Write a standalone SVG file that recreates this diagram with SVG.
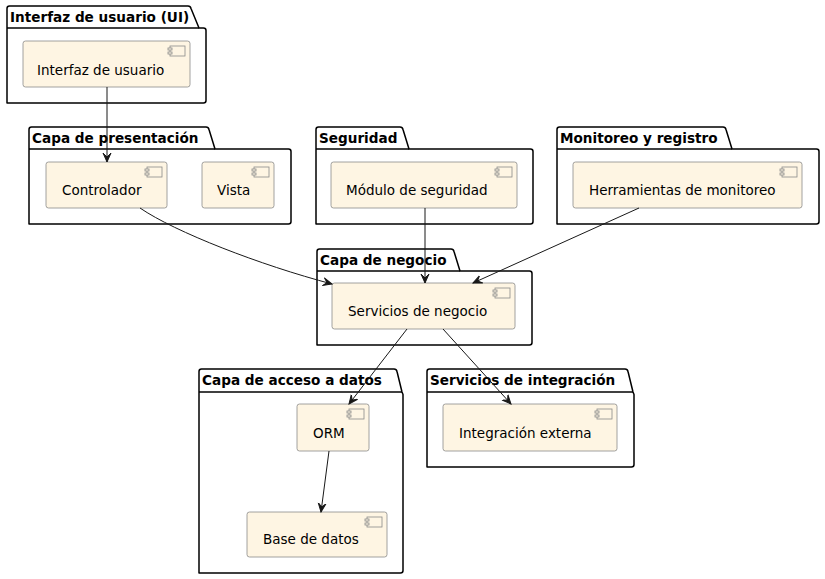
<svg xmlns="http://www.w3.org/2000/svg" width="825" height="579" viewBox="0 0 825 579">
<style>
.pkg{fill:#FFFFFF;stroke:#000000;stroke-width:1.5;stroke-linejoin:round}
.pkgline{stroke:#000000;stroke-width:1.5;fill:none}
.ptitle{font-family:"DejaVu Sans",sans-serif;font-size:13.6px;font-weight:bold;fill:#000000}
.comp{fill:#FEF5E3;stroke:#8A8A8A;stroke-width:0.8}
.icon{fill:#FEF5E3;stroke:#8A8A8A;stroke-width:0.8}
.ctext{font-family:"DejaVu Sans",sans-serif;font-size:13.5px;fill:#000000}
.edge{stroke:#181818;stroke-width:1;fill:none}
</style>
<defs>
<marker id="arr" viewBox="0 -5 10 10" refX="9" refY="0" markerWidth="10" markerHeight="10" markerUnits="userSpaceOnUse" orient="auto">
<path d="M0,-4 L9,0 L0,4 L4,0 Z" fill="#181818" stroke="#181818" stroke-width="1"/>
</marker>
<g id="cicon">
<rect class="icon" x="0" y="0" width="15" height="10"/>
<rect class="icon" x="-2" y="2" width="4" height="2"/>
<rect class="icon" x="-2" y="6" width="4" height="2"/>
</g>
</defs>

<g id="pkg-ui">
<path class="pkg" d="M7,103 L7,8.5 Q7,6 9.5,6 L188,6 Q190.5,6 191,8.5 L199,28 L203.5,28 Q206,28 206,30.5 L206,100.5 Q206,103 203.5,103 Z"/>
<line class="pkgline" x1="7" y1="28" x2="199" y2="28"/>
<text class="ptitle" x="10" y="22">Interfaz de usuario (UI)</text>
</g>
<g id="pkg-presentacion">
<path class="pkg" d="M29,224 L29,129.5 Q29,127 31.5,127 L206,127 Q208.5,127 209,129.5 L215,149 L288.5,149 Q291,149 291,151.5 L291,221.5 Q291,224 288.5,224 Z"/>
<line class="pkgline" x1="29" y1="149" x2="215" y2="149"/>
<text class="ptitle" x="32" y="143">Capa de presentación</text>
</g>
<g id="pkg-seguridad">
<path class="pkg" d="M316,224 L316,129.5 Q316,127 318.5,127 L400,127 Q402.5,127 403,129.5 L409,149 L530.5,149 Q533,149 533,151.5 L533,221.5 Q533,224 530.5,224 Z"/>
<line class="pkgline" x1="316" y1="149" x2="409" y2="149"/>
<text class="ptitle" x="319" y="143">Seguridad</text>
</g>
<g id="pkg-monitoreo">
<path class="pkg" d="M557,224 L557,129.5 Q557,127 559.5,127 L723,127 Q725.5,127 726,129.5 L732,149 L816.5,149 Q819,149 819,151.5 L819,221.5 Q819,224 816.5,224 Z"/>
<line class="pkgline" x1="557" y1="149" x2="732" y2="149"/>
<text class="ptitle" x="560" y="143">Monitoreo y registro</text>
</g>
<g id="pkg-negocio">
<path class="pkg" d="M317,345 L317,251.5 Q317,249 319.5,249 L451,249 Q453.5,249 454,251.5 L460,271 L529.5,271 Q532,271 532,273.5 L532,342.5 Q532,345 529.5,345 Z"/>
<line class="pkgline" x1="317" y1="271" x2="460" y2="271"/>
<text class="ptitle" x="320" y="265">Capa de negocio</text>
</g>
<g id="pkg-acceso">
<path class="pkg" d="M199,573 L199,371.5 Q199,369 201.5,369 L394,369 Q396.5,369 397,371.5 L402,392 L403,394.5 L403,570.5 Q403,573 400.5,573 Z"/>
<line class="pkgline" x1="199" y1="392" x2="402" y2="392"/>
<text class="ptitle" x="202" y="385">Capa de acceso a datos</text>
</g>
<g id="pkg-integracion">
<path class="pkg" d="M427,467 L427,371.5 Q427,369 429.5,369 L625,369 Q627.5,369 628,371.5 L633,392 L634,394.5 L634,464.5 Q634,467 631.5,467 Z"/>
<line class="pkgline" x1="427" y1="392" x2="633" y2="392"/>
<text class="ptitle" x="430" y="385">Servicios de integración</text>
</g>

<g id="comp-ui">
<rect class="comp" x="23" y="41" width="167" height="46" rx="2.5"/>
<use href="#cicon" x="170" y="46"/>
<text class="ctext" x="37" y="74.5">Interfaz de usuario</text>
</g>
<g id="comp-controlador">
<rect class="comp" x="46" y="162" width="121" height="46" rx="2.5"/>
<use href="#cicon" x="147" y="167"/>
<text class="ctext" x="62" y="195">Controlador</text>
</g>
<g id="comp-vista">
<rect class="comp" x="202" y="162" width="72" height="46" rx="2.5"/>
<use href="#cicon" x="254" y="167"/>
<text class="ctext" x="217" y="195">Vista</text>
</g>
<g id="comp-seguridad">
<rect class="comp" x="331" y="162" width="186" height="46" rx="2.5"/>
<use href="#cicon" x="497" y="167"/>
<text class="ctext" x="346" y="195">Módulo de seguridad</text>
</g>
<g id="comp-monitoreo">
<rect class="comp" x="573" y="162" width="229" height="46" rx="2.5"/>
<use href="#cicon" x="782" y="167"/>
<text class="ctext" x="589" y="195">Herramientas de monitoreo</text>
</g>
<g id="comp-negocio">
<rect class="comp" x="332" y="283" width="183" height="46" rx="2.5"/>
<use href="#cicon" x="495" y="288"/>
<text class="ctext" x="348" y="316">Servicios de negocio</text>
</g>
<g id="comp-orm">
<rect class="comp" x="297" y="404" width="72" height="47" rx="2.5"/>
<use href="#cicon" x="349" y="409"/>
<text class="ctext" x="313" y="438">ORM</text>
</g>
<g id="comp-bd">
<rect class="comp" x="247" y="512" width="140" height="45" rx="2.5"/>
<use href="#cicon" x="367" y="517"/>
<text class="ctext" x="263" y="544">Base de datos</text>
</g>
<g id="comp-integracion">
<rect class="comp" x="443" y="404" width="174" height="47" rx="2.5"/>
<use href="#cicon" x="597" y="409"/>
<text class="ctext" x="459" y="438">Integración externa</text>
</g>

<g id="connectors">
<path class="edge" marker-end="url(#arr)" d="M107,87 L107,162"/>
<path class="edge" marker-end="url(#arr)" d="M140,208 C175,232 260,265 332,284"/>
<path class="edge" marker-end="url(#arr)" d="M425,208 L425,283"/>
<path class="edge" marker-end="url(#arr)" d="M639,208 L473,283"/>
<path class="edge" marker-end="url(#arr)" d="M407,329 L349,404"/>
<path class="edge" marker-end="url(#arr)" d="M443,329 L511,404"/>
<path class="edge" marker-end="url(#arr)" d="M329,451 L321,512"/>
</g>
</svg>
